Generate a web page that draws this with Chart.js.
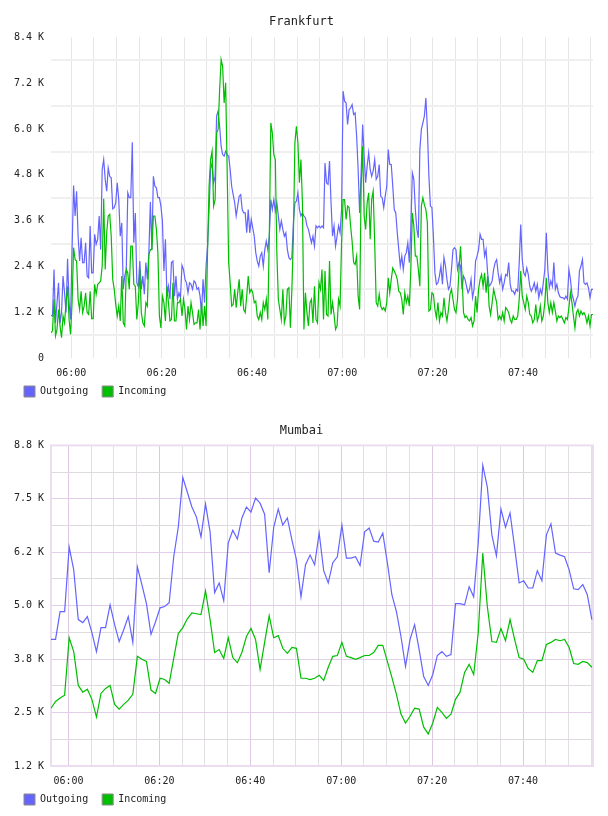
<!DOCTYPE html>
<html><head><meta charset="utf-8">
<script src="https://cdn.jsdelivr.net/npm/chart.js@4/dist/chart.umd.min.js"></script>
<style>
html,body{margin:0;padding:0;background:#fff;}
.box{position:absolute;left:0;width:608px;height:408px;}
</style></head><body>
<div class="box" style="top:0"><canvas id="c1"></canvas></div>
<div class="box" style="top:408px"><canvas id="c2"></canvas></div>
<script>
// ---- shared axis data ----
const xGridMinutes = [0,5,10,15,20,25,30,35,40,45,50,55,60,65,70,75,80,85,90,95,100,105,110,115]; // minutes after 06:00
const xLabelMinutes = [0,20,40,60,80,100];
const xLabelTexts = ['06:00','06:20','06:40','07:00','07:20','07:40'];
const seriesNames = ['Outgoing','Incoming'];

// ---- Frankfurt (20 s samples, values in K) ----
const frankfurtTitle = 'Frankfurt';
const frankfurtStartMin = -4.5;
const frankfurtStepMin = 1/3;
const frankfurtYTicks = [0,0.6,1.2,1.8,2.4,3.0,3.6,4.2,4.8,5.4,6.0,6.6,7.2,7.8,8.4];
const frankfurtYLabels = ['0','1.2 K','2.4 K','3.6 K','4.8 K','6.0 K','7.2 K','8.4 K'];
const frankfurtOutgoing = [
1.12,1.10,2.32,0.92,1.45,1.97,0.92,1.19,2.15,1.71,
1.19,2.60,1.45,1.01,2.84,4.52,3.72,4.37,3.19,2.54,
3.15,2.50,2.50,3.02,2.15,2.10,3.46,2.23,2.23,3.24,
2.98,3.11,3.72,2.84,4.94,5.20,4.68,4.37,4.98,4.76,
4.72,3.91,3.94,4.07,4.59,4.15,3.19,3.54,1.80,2.15,
2.32,4.33,4.20,4.20,5.65,3.02,3.80,1.97,1.87,2.54,
1.80,2.15,1.67,2.50,2.06,2.76,4.09,2.84,4.76,4.50,
4.46,4.20,4.20,3.98,3.59,2.28,3.11,1.62,1.88,1.54,
2.50,2.54,1.62,2.15,1.54,1.71,1.58,2.43,2.32,2.06,
1.97,
1.71,1.97,1.93,1.80,2.02,1.97,1.80,1.84,1.62,1.19,
2.06,1.45,2.41,2.93,3.89,4.94,5.11,4.59,4.76,6.34,
6.47,6.07,5.55,5.33,5.29,5.42,5.33,5.29,4.94,4.50,
4.28,4.07,3.72,3.98,4.24,4.28,3.89,3.80,3.80,3.28,
3.89,3.28,3.63,3.41,3.19,2.76,2.54,2.41,2.67,2.76,
2.41,2.84,3.06,2.84,3.19,4.15,3.89,4.15,3.85,4.07,
3.72,3.37,3.59,3.37,3.19,3.28,2.84,2.63,2.58,2.63,
3.54,4.07,4.11,4.33,3.89,3.72,3.80,3.72,3.67,3.46,
3.37,3.19,3.02,3.19,2.93,3.46,3.41,3.46,3.41,3.46,
3.41,5.11,4.59,4.55,5.16,4.07,3.19,3.46,2.93,3.19,
3.46,3.28,3.89,6.99,6.73,6.68,6.12,6.51,6.55,6.64,
6.38,6.42,5.81,4.94,3.80,4.85,6.12,5.29,4.59,5.03,
5.38,4.94,4.76,4.90,5.20,4.68,4.76,5.07,4.24,4.20,
3.94,4.24,4.50,5.46,5.07,5.07,4.50,3.89,3.80,3.28,
2.84,2.41,2.67,2.32,2.67,2.76,3.02,2.50,3.37,4.85,
4.68,3.89,3.37,3.15,5.46,5.99,6.16,6.34,6.81,5.99,
4.76,3.98,3.94,3.19,2.23,1.93,1.97,2.15,2.41,1.93,
2.63,2.41,2.06,1.80,1.88,2.32,2.84,2.89,2.84,2.32,
2.50,
2.41,1.80,2.15,2.06,1.88,1.71,1.80,2.06,1.58,1.80,
2.54,2.67,2.84,3.24,3.11,3.11,2.67,2.84,2.23,1.88,
1.93,2.02,2.32,2.50,2.58,2.23,1.97,2.15,1.80,1.97,
2.19,2.15,2.50,1.93,1.75,1.75,1.67,1.80,1.75,2.50,
3.50,2.58,2.23,2.15,2.36,2.19,1.88,1.75,1.84,1.97,
1.75,1.93,1.58,1.80,1.67,1.97,2.32,3.28,2.32,1.84,
2.02,1.88,2.50,1.80,1.93,1.71,1.61,1.58,1.58,1.54,
1.62,1.54,2.32,2.06,1.67,1.54,1.36,1.54,1.62,2.28,
2.41,2.58,1.97,1.93,1.97,1.84,1.58,1.80,1.80
];
const frankfurtIncoming = [
0.66,0.71,1.54,0.58,0.75,1.27,0.84,0.53,1.10,0.92,
1.45,1.88,1.01,0.62,1.45,2.89,2.58,2.54,1.54,1.27,
1.75,1.19,1.36,1.71,1.19,1.14,1.75,1.03,1.03,1.93,
1.67,1.93,1.97,2.02,2.41,4.17,2.32,3.28,3.72,3.76,
3.19,2.06,1.80,1.40,1.10,1.36,0.97,2.15,0.92,0.84,
2.32,2.23,1.80,2.93,2.93,1.93,1.88,1.01,1.45,2.32,
1.19,0.92,0.84,1.45,1.36,2.71,2.84,2.84,3.72,3.72,
3.37,2.76,1.10,0.79,1.62,1.45,0.97,1.88,1.45,0.97,
1.01,1.97,0.97,0.97,1.45,1.45,1.54,1.10,1.54,1.27,
0.75,
1.36,1.01,1.45,1.19,0.88,0.92,0.92,1.27,0.75,1.45,
0.84,1.36,0.84,2.84,4.50,5.20,5.42,3.98,4.15,5.90,
5.99,7.03,7.82,7.64,6.68,7.21,4.94,2.50,1.97,1.36,
1.40,1.80,1.32,1.71,2.06,1.36,1.80,1.27,1.19,1.62,
2.15,1.71,1.80,1.71,1.45,1.49,1.10,1.01,1.19,1.01,
1.45,1.27,1.54,1.01,3.19,6.16,5.90,5.33,5.20,2.76,
1.54,1.27,1.01,1.80,0.92,1.10,1.80,1.84,0.79,1.80,
3.19,5.64,6.07,5.64,4.59,5.20,4.07,0.75,1.71,1.19,
0.84,1.45,1.54,0.92,1.88,1.01,0.92,1.97,1.80,2.32,
1.01,2.28,1.14,1.10,2.54,1.14,1.45,1.14,0.75,0.84,
1.54,1.36,3.02,4.15,4.15,3.63,3.98,3.94,3.46,3.06,
2.50,2.45,2.67,1.62,1.27,4.50,5.55,3.72,3.37,4.07,
4.33,3.11,4.15,4.37,3.02,1.45,1.36,1.67,1.36,1.27,
1.32,1.23,1.45,2.10,1.71,2.06,2.36,2.28,2.19,2.06,
1.75,1.71,1.54,1.14,1.71,1.45,1.62,1.36,2.32,3.80,
3.46,2.67,2.67,2.32,1.88,3.98,4.20,4.02,3.89,3.54,
1.23,1.27,1.71,1.67,1.27,1.06,1.45,0.97,1.19,1.10,
1.58,1.19,0.97,1.27,1.67,1.80,1.54,1.27,1.19,1.54,
2.32,
2.93,2.15,1.19,1.06,1.10,1.01,0.97,1.06,0.84,0.97,
1.62,1.19,1.80,2.06,2.19,1.88,2.23,1.71,2.15,1.36,
1.14,1.45,1.80,1.62,1.45,1.01,1.10,1.01,1.19,0.97,
1.32,1.27,1.19,1.01,0.92,1.10,1.01,1.01,1.10,1.54,
2.28,1.62,1.45,1.27,1.62,1.45,1.14,1.10,0.92,1.01,
1.40,0.97,1.10,1.36,0.97,1.10,1.45,2.10,1.45,1.19,
1.45,1.19,1.45,1.23,0.97,1.10,1.06,1.10,1.01,0.92,
1.06,1.01,1.32,1.71,1.45,1.10,0.79,1.19,1.27,1.10,
1.23,1.14,1.19,1.10,0.92,1.10,0.84,1.14,1.14
];

// ---- Mumbai (1 min samples, values in K) ----
const mumbaiTitle = 'Mumbai';
const mumbaiStartMin = -3.85;
const mumbaiStepMin = 1;
const mumbaiYMin = 1.2, mumbaiYMax = 8.8;
const mumbaiYLabels = ['1.2 K','2.5 K','3.8 K','5.0 K','6.2 K','7.5 K','8.8 K'];
const mumbaiOutgoing = [
4.20,4.20,4.86,4.86,6.39,5.85,4.67,4.60,4.74,4.36,
3.91,4.48,4.48,5.02,4.55,4.15,4.43,4.74,4.13,5.92,
5.50,5.05,4.32,4.62,4.95,4.98,5.07,6.16,6.86,8.04,
7.69,7.34,7.10,6.63,7.41,6.75,5.31,5.54,5.12,6.49,
6.79,6.58,7.08,7.34,7.22,7.55,7.43,7.17,5.78,6.86,
7.29,6.91,7.08,6.56,6.09,5.21,5.97,6.20,5.97,6.72,
5.83,5.54,6.02,6.16,6.91,6.13,6.13,6.16,5.95,6.75,
6.84,6.53,6.51,6.72,6.02,5.26,4.86,4.27,3.56,4.20,
4.55,3.96,3.32,3.11,3.37,3.82,3.91,3.80,3.84,5.05,
5.05,5.02,5.45,5.21,6.49,8.33,7.81,6.68,6.18,7.29,
6.86,7.20,6.39,5.54,5.59,5.42,5.42,5.83,5.59,6.68,
6.94,6.25,6.20,6.16,5.85,5.40,5.38,5.50,5.26,4.67
];
const mumbaiIncoming = [
2.57,2.73,2.81,2.88,4.24,3.91,3.11,2.95,3.02,2.78,
2.36,2.92,3.04,3.11,2.66,2.55,2.66,2.76,2.90,3.80,
3.73,3.68,3.00,2.92,3.28,3.25,3.16,3.75,4.34,4.48,
4.69,4.83,4.81,4.79,5.35,4.67,3.89,3.96,3.75,4.24,
3.77,3.65,3.89,4.27,4.46,4.20,3.49,4.13,4.76,4.24,
4.29,3.99,3.87,4.01,3.99,3.28,3.28,3.25,3.28,3.35,
3.23,3.54,3.80,3.82,4.13,3.80,3.77,3.73,3.77,3.82,
3.82,3.89,4.06,4.06,3.68,3.30,2.90,2.43,2.22,2.38,
2.57,2.55,2.12,1.96,2.22,2.59,2.47,2.33,2.43,2.78,
2.95,3.42,3.61,3.37,4.36,6.25,4.98,4.15,4.13,4.46,
4.17,4.67,4.20,3.77,3.73,3.51,3.42,3.70,3.70,4.08,
4.13,4.20,4.17,4.20,4.01,3.63,3.61,3.68,3.65,3.54
];

// ---- styling ----
const FONT = "'DejaVu Sans Mono', monospace";
const BLUE = 'rgb(100,100,255)';
const GREEN = 'rgb(0,190,0)';

const framePlugin = {
  id: 'frame',
  beforeDatasetsDraw(chart, args, opts) {
    if (!opts || !opts.color) return;
    const a = chart.chartArea, ctx = chart.ctx;
    ctx.save();
    ctx.strokeStyle = opts.color;
    ctx.lineWidth = opts.width || 1;
    ctx.strokeRect(a.left, a.top, a.right - a.left, a.bottom - a.top);
    ctx.restore();
  }
};

function toPoints(values, start, step) {
  return values.map((v, i) => ({x: start + i * step, y: v}));
}

function makeChart(id, c) {
  return new Chart(document.getElementById(id), {
    type: 'line',
    data: {datasets: [
      {label: seriesNames[0], data: toPoints(c.out, c.start, c.step), borderColor: BLUE, backgroundColor: BLUE,
       borderWidth: 1.2, pointRadius: 0, tension: 0, order: 1},
      {label: seriesNames[1], data: toPoints(c.inc, c.start, c.step), borderColor: GREEN, backgroundColor: GREEN,
       borderWidth: 1.2, pointRadius: 0, tension: 0, order: 0}
    ]},
    options: {
      responsive: true, maintainAspectRatio: false, animation: false, devicePixelRatio: 1,
      layout: {padding: {left: 10, right: 15, top: 0, bottom: 1}},
      plugins: {
        title: {display: true, text: c.title, color: '#222',
                font: {family: FONT, size: 12, weight: 'normal', lineHeight: 1.2},
                padding: {top: c.titleTop, bottom: 23 - c.titleTop}},
        legend: {position: 'bottom', align: 'start',
          labels: {font: {family: FONT, size: 10}, color: '#222', boxWidth: 11, boxHeight: 11, padding: 14,
            generateLabels(chart) {
              const items = Chart.defaults.plugins.legend.labels.generateLabels(chart);
              items.sort((a, b) => a.datasetIndex - b.datasetIndex);
              items.forEach(it => { it.strokeStyle = '#8a8a8a'; it.lineWidth = 1; });
              return items;
            }}},
        tooltip: {enabled: false},
        frame: c.frame
      },
      scales: {
        x: {type: 'linear', min: c.xMin, max: c.xMax,
          afterBuildTicks: s => { s.ticks = xGridMinutes.map(v => ({value: v})); },
          afterFit: s => { s.height = 14; s._computeLabelArea = () => undefined; },
          grid: {color: c.xGrid, lineWidth: 1, drawTicks: false},
          border: {display: false},
          ticks: {autoSkip: false, maxRotation: 0, padding: 9, color: '#222', font: {family: FONT, size: 10},
            callback: v => { const k = xLabelMinutes.indexOf(Math.round(v)); return k >= 0 ? xLabelTexts[k] : ''; }}
        },
        y: {type: 'linear', min: c.yMin, max: c.yMax,
          afterBuildTicks: s => { s.ticks = c.yTicks.map(v => ({value: v})); },
          afterFit: s => { s.width = 41; },
          grid: {color: c.yGrid, lineWidth: c.yGridWidth, drawTicks: false},
          border: {display: false},
          ticks: {padding: 7, color: '#222', font: {family: FONT, size: 10},
            callback: (v, i) => (i % 2 === 0 ? c.yLabels[i / 2] : '')}
        }
      }
    },
    plugins: [framePlugin]
  });
}

makeChart('c1', {
  title: frankfurtTitle, titleTop: 15, out: frankfurtOutgoing, inc: frankfurtIncoming,
  start: frankfurtStartMin, step: frankfurtStepMin, xMin: -4.5, xMax: 115.5,
  yMin: 0, yMax: 8.4, yTicks: frankfurtYTicks, yLabels: frankfurtYLabels,
  xGrid: '#e6e6e6',
  yGrid: ctx => (ctx.index % 2 === 1 ? '#efefef' : 'rgba(0,0,0,0)'), yGridWidth: 2,
  frame: {}
});

const mumbaiYTicks = [];
for (let k = 0; k <= 12; k++) mumbaiYTicks.push(mumbaiYMin + (mumbaiYMax - mumbaiYMin) * k / 12);

makeChart('c2', {
  title: mumbaiTitle, titleTop: 16, out: mumbaiOutgoing, inc: mumbaiIncoming,
  start: mumbaiStartMin, step: mumbaiStepMin, xMin: -3.85, xMax: 115.4,
  yMin: mumbaiYMin, yMax: mumbaiYMax, yTicks: mumbaiYTicks, yLabels: mumbaiYLabels,
  xGrid: ctx => (ctx.tick && ctx.tick.value % 20 === 0 ? 'rgb(222,200,228)' : 'rgb(226,222,228)'),
  yGrid: ctx => (ctx.index % 2 === 0 ? 'rgb(226,206,232)' : 'rgb(222,218,224)'), yGridWidth: 1,
  frame: {color: 'rgb(236,220,240)', width: 2}
});
</script>
</body></html>
